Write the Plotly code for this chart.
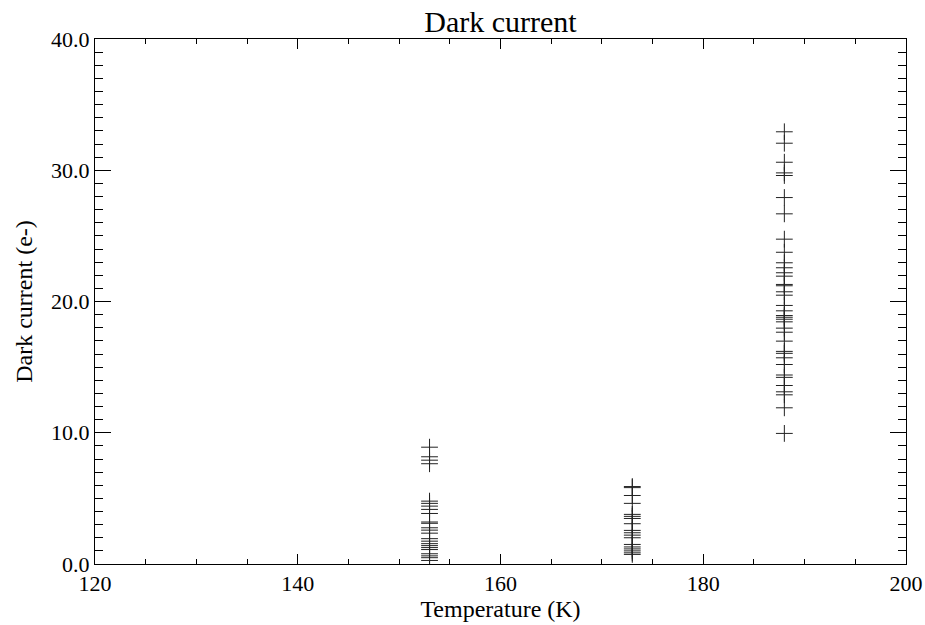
import plotly.graph_objects as go

# Temperatures (K) of each measurement group
temp_153 = 153
temp_173 = 173
temp_188 = 188

# Dark current values (e-)
dc_153 = [8.90, 8.17, 7.91, 7.64, 4.79, 4.62, 4.41, 4.16, 3.85, 3.20, 3.10,
          2.76, 2.58, 2.35, 1.93, 1.74, 1.55, 1.40, 1.25, 1.10, 0.78, 0.62,
          0.48, 0.27]
dc_173 = [5.90, 5.82, 5.22, 4.62, 3.78, 3.63, 3.47, 3.07, 2.56, 2.38, 2.20,
          2.00, 1.49, 1.30, 1.15, 1.00, 0.85, 0.73]
dc_188 = [32.93, 32.06, 30.61, 29.80, 29.60, 27.92, 26.68, 24.75, 23.75,
          22.95, 22.57, 22.19, 21.93, 21.30, 21.20, 20.74, 20.48, 19.70,
          19.29, 18.93, 18.80, 18.65, 18.45, 17.97, 17.66, 16.98, 16.20,
          16.05, 15.71, 15.20, 14.40, 14.22, 13.60, 13.12, 12.89, 11.90, 9.95]

x_vals = [temp_153] * len(dc_153) + [temp_173] * len(dc_173) + [temp_188] * len(dc_188)
y_vals = dc_153 + dc_173 + dc_188

FONT = "Liberation Serif"

fig = go.Figure()
fig.add_trace(go.Scatter(
    x=x_vals, y=y_vals, mode="markers",
    marker=dict(symbol="cross-thin", size=12, color="black",
                line=dict(color="#222222", width=1)),
    showlegend=False, hoverinfo="x+y",
))

fig.update_layout(
    width=925, height=625,
    margin=dict(l=95, r=19, t=39, b=61),
    paper_bgcolor="white", plot_bgcolor="white",
    font=dict(family=FONT, size=22, color="black"),
    title=dict(text="Dark current", x=0.5, xref="paper", xanchor="center",
               y=0.966, yref="container", yanchor="middle",
               font=dict(family=FONT, size=30, color="black")),
)

fig.update_xaxes(
    range=[120, 200], tick0=120, dtick=20, automargin=False,
    showgrid=False, zeroline=False,
    showline=True, linecolor="black", linewidth=1, mirror="ticks",
    ticks="inside", ticklen=10, tickwidth=1, tickcolor="black",
    minor=dict(dtick=5, ticks="inside", ticklen=5, tickwidth=1, tickcolor="black"),
    tickfont=dict(family=FONT, size=22),
    title=dict(text="Temperature (K)", standoff=2, font=dict(family=FONT, size=24)),
)

fig.update_yaxes(
    range=[0, 40], tick0=0, dtick=10, tickformat=".1f", automargin=False,
    showgrid=False, zeroline=False,
    showline=True, linecolor="black", linewidth=1, mirror="ticks",
    ticks="inside", ticklen=16, tickwidth=1, tickcolor="black",
    minor=dict(dtick=1, ticks="inside", ticklen=8, tickwidth=1, tickcolor="black"),
    tickfont=dict(family=FONT, size=22),
    title=dict(text="Dark current (e-)", standoff=11, font=dict(family=FONT, size=24)),
)

fig.write_html("out.html")
